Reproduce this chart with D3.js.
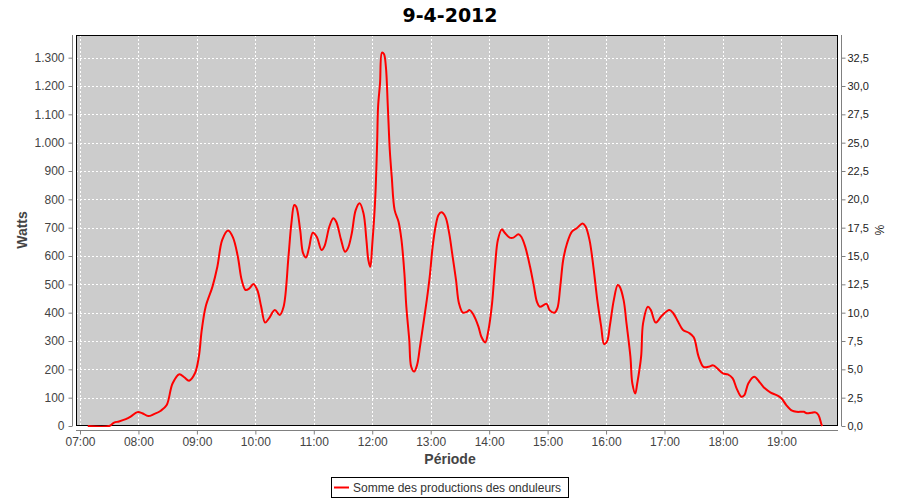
<!DOCTYPE html>
<html><head><meta charset="utf-8">
<script src="https://cdn.jsdelivr.net/npm/d3@7"></script>
<style>
html,body{margin:0;padding:0;background:#fff;}
svg{display:block;font-family:"Liberation Sans",Arial,sans-serif;}
</style></head>
<body>
<svg id="chart" width="900" height="500"></svg>
<script>
const title = "9-4-2012";
const seriesName = "Somme des productions des onduleurs";
const times = ["07:08","07:30","07:35","07:40","07:47","07:52","07:59","08:04","08:10","08:16","08:23","08:29","08:35","08:42","08:47","08:52","08:58","09:02","09:05","09:09","09:16","09:21","09:26","09:32","09:37","09:42","09:46","09:50","09:54","09:58","10:02","10:06","10:10","10:14","10:20","10:25","10:29","10:34","10:37","10:40","10:42","10:46","10:49","10:52","10:55","10:59","11:03","11:08","11:11","11:16","11:20","11:23","11:28","11:32","11:35","11:39","11:43","11:47","11:51","11:54","11:56","11:58","12:00","12:03","12:05","12:06","12:08","12:10","12:12","12:14","12:16","12:18","12:20","12:23","12:27","12:30","12:33","12:35","12:38","12:40","12:43","12:46","12:49","12:53","12:56","12:59","13:02","13:05","13:08","13:11","13:15","13:19","13:22","13:26","13:29","13:33","13:37","13:40","13:44","13:49","13:52","13:56","13:59","14:03","14:06","14:09","14:13","14:16","14:21","14:25","14:30","14:33","14:37","14:42","14:46","14:49","14:52","14:59","15:02","15:07","15:10","15:13","15:16","15:20","15:25","15:30","15:36","15:39","15:43","15:47","15:51","15:55","15:58","16:01","16:04","16:08","16:12","16:14","16:18","16:21","16:25","16:27","16:30","16:32","16:36","16:38","16:43","16:46","16:51","16:57","17:05","17:09","17:14","17:19","17:25","17:30","17:35","17:40","17:45","17:50","17:54","18:00","18:05","18:10","18:14","18:19","18:22","18:26","18:32","18:38","18:43","18:49","18:55","19:00","19:05","19:11","19:16","19:23","19:26","19:31","19:35","19:38","19:41","19:42"];
const watts = [0,0,12,16,24,33,49,45,35,42,54,74,150,183,172,160,186,245,339,421,492,562,657,690,666,598,515,480,486,501,480,421,365,380,409,392,421,598,715,780,774,692,610,595,627,682,668,621,635,704,733,721,657,615,627,680,762,786,751,657,586,562,640,798,998,1127,1210,1318,1313,1268,1127,974,880,762,721,657,539,421,304,209,192,215,280,374,445,527,633,704,745,754,739,680,610,515,433,400,403,409,392,351,315,295,333,433,562,657,694,682,665,665,677,668,633,562,492,439,421,431,409,400,415,492,586,645,686,698,715,704,657,562,445,351,289,298,356,445,498,492,445,362,245,150,115,150,245,362,421,409,365,388,409,398,368,339,329,313,245,209,209,214,204,186,182,168,133,103,109,150,174,153,133,118,109,98,74,54,50,50,45,47,48,39,7,0];
const wattTicks = d3.range(0, 1301, 100);
const pctTicks = d3.range(0, 32.6, 2.5);
const hourTicks = d3.range(7, 20);

const svg = d3.select("#chart");
const L = 76, R = 838, T = 35, B = 426;
const parse = d3.timeParse("%H:%M");
const data = times.map((t, i) => ({t: parse(t), v: watts[i]}));

const x = d3.scaleTime()
  .domain([new Date(1900,0,1,6,55,54), new Date(1900,0,1,19,58,6)])
  .range([L, R]);
const y = d3.scaleLinear().domain([0, 1380]).range([B, T]);
const y2 = d3.scaleLinear().domain([0, 34.5]).range([B, T]);
const hourDates = hourTicks.map(h => new Date(1900,0,1,h,0,0));

// plot background
svg.append("rect").attr("x", L).attr("y", T).attr("width", R - L).attr("height", B - T).attr("fill", "#cccccc");

// grid
const grid = svg.append("g").attr("stroke", "#ffffff").attr("stroke-width", 1).attr("stroke-dasharray", "2,2").attr("shape-rendering", "crispEdges");
grid.selectAll("line.h").data(wattTicks).join("line")
  .attr("x1", L).attr("x2", R).attr("y1", d => Math.round(y(d)) + 0.5).attr("y2", d => Math.round(y(d)) + 0.5);
grid.selectAll("line.v").data(hourDates).join("line")
  .attr("y1", T).attr("y2", B).attr("x1", d => Math.round(x(d)) + 0.5).attr("x2", d => Math.round(x(d)) + 0.5);

// border
svg.append("rect").attr("x", L + 0.5).attr("y", T + 0.5).attr("width", R - L - 1).attr("height", B - T - 1).attr("fill", "none").attr("stroke", "#000").attr("stroke-width", 1);

// line (on top of border)
svg.append("clipPath").attr("id", "clip").append("rect").attr("x", L).attr("y", T - 2).attr("width", R - L).attr("height", B - T + 3);
const line = d3.line().x(d => x(d.t)).y(d => y(d.v)).curve(d3.curveCatmullRom.alpha(0.5));
svg.append("path").datum(data).attr("d", line).attr("fill", "none").attr("stroke", "#ff0000").attr("stroke-width", 2).attr("clip-path", "url(#clip)");

function styleAxis(g, color, size) {
  g.select(".domain").attr("stroke", "#808080");
  g.selectAll(".tick line").attr("stroke", "#808080");
  g.selectAll(".tick text").attr("fill", color).attr("font-size", size).attr("font-family", "Liberation Sans, Arial, sans-serif");
}

// left axis
const gl = svg.append("g").attr("transform", "translate(72.5,0)")
  .call(d3.axisLeft(y).tickValues(wattTicks).tickSizeOuter(0).tickSize(4).tickPadding(4)
    .tickFormat(d => d3.format(",")(d).replace(/,/g, ".")));
gl.select(".domain").attr("d", `M0,${B}V${T}`);
styleAxis(gl, "#444444", 12);

// right axis
const gr = svg.append("g").attr("transform", "translate(841.5,0)")
  .call(d3.axisRight(y2).tickValues(pctTicks).tickSizeOuter(0).tickSize(4).tickPadding(2)
    .tickFormat(d => d3.format(".1f")(d).replace(".", ",")));
gr.select(".domain").attr("d", `M0,${B}V${T}`);
styleAxis(gr, "#222222", 11);

// bottom axis
const gb = svg.append("g").attr("transform", "translate(0,430.5)")
  .call(d3.axisBottom(x).tickValues(hourDates).tickSizeOuter(0).tickSize(4).tickPadding(3)
    .tickFormat(d3.timeFormat("%H:%M")));
gb.select(".domain").attr("d", `M${L},0H${R}`);
styleAxis(gb, "#444444", 12);

// title
svg.append("text").attr("x", 450).attr("y", 22).attr("text-anchor", "middle")
  .attr("font-family", "DejaVu Sans, sans-serif").attr("font-weight", "bold").attr("font-size", 19).attr("fill", "#000").text(title);

// axis labels
svg.append("text").attr("x", 450).attr("y", 464).attr("text-anchor", "middle")
  .attr("font-weight", "bold").attr("font-size", 14).attr("fill", "#444").text("Période");
svg.append("text").attr("transform", "translate(27,230) rotate(-90)").attr("text-anchor", "middle")
  .attr("font-weight", "bold").attr("font-size", 14).attr("fill", "#444").text("Watts");
svg.append("text").attr("transform", "translate(875,230) rotate(90)").attr("text-anchor", "middle")
  .attr("font-size", 12).attr("fill", "#222").text("%");

// legend
const lg = svg.append("g");
lg.append("rect").attr("x", 331.5).attr("y", 477.5).attr("width", 237).attr("height", 20).attr("fill", "#fff").attr("stroke", "#000");
lg.append("line").attr("x1", 334).attr("x2", 349).attr("y1", 487.5).attr("y2", 487.5).attr("stroke", "#ff0000").attr("stroke-width", 2);
lg.append("text").attr("x", 353).attr("y", 492).attr("font-size", 12).attr("fill", "#333").text(seriesName);
</script>
</body></html>
